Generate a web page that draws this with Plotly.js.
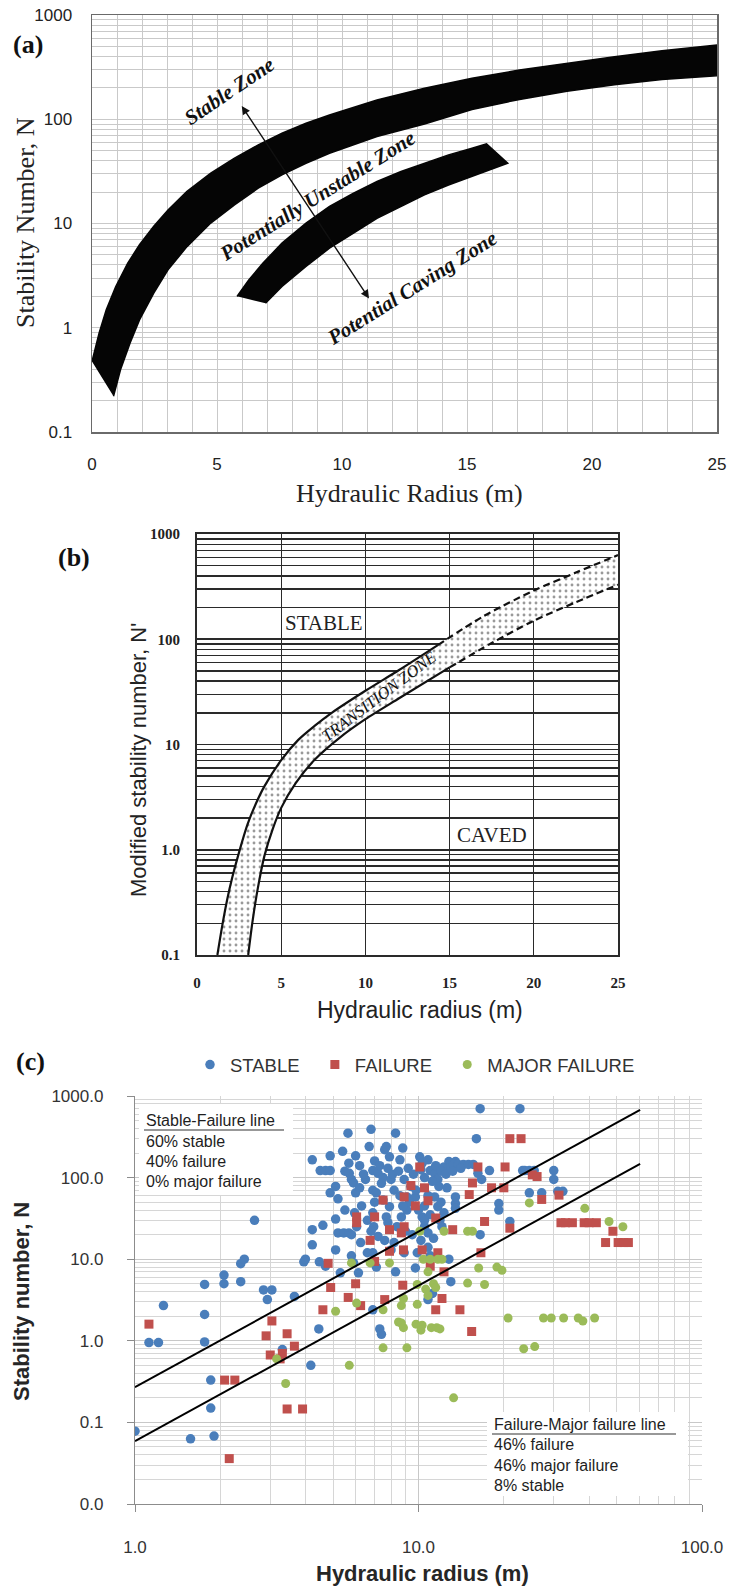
<!DOCTYPE html>
<html><head><meta charset="utf-8">
<script src="https://cdn.plot.ly/plotly-3.0.1.min.js"></script>
<style>html,body{margin:0;padding:0;background:#fff}#chart{width:741px;height:1588px}</style>
</head><body><div id="chart"></div>
<script>
// ================= Panel (a) data =================
const aUpperTopX = [0, 0.285, 0.57, 0.95, 1.43, 1.9, 2.47, 3.04, 3.8, 4.75, 5.7, 6.65, 7.6, 8.56, 9.5, 11.4, 13.3, 15.2, 17.1, 19.0, 20.9, 22.8, 25];
const aUpperTopN = [0.475, 0.89, 1.49, 2.49, 4.17, 6.25, 9.4, 13.5, 20.3, 30.4, 42.3, 56.8, 73.5, 91.6, 110, 153, 198, 247, 297, 345, 398, 455, 515];
const aUpperBotX = [0.86, 1.14, 1.52, 1.9, 2.47, 3.04, 3.8, 4.75, 5.7, 6.65, 7.6, 8.56, 9.5, 11.4, 13.3, 15.2, 17.1, 19.0, 20.9, 22.8, 25];
const aUpperBotN = [0.22, 0.395, 0.71, 1.19, 2.15, 3.6, 6.0, 10.1, 15.1, 21.8, 29.3, 37.8, 47.2, 68.2, 90, 124, 155, 186, 214, 240, 262];
const aLowerTopX = [5.8, 6.27, 6.84, 7.6, 8.56, 9.5, 10.46, 11.4, 12.36, 13.3, 14.26, 15.2, 15.78];
const aLowerTopN = [2.0, 2.88, 4.17, 6.5, 10.1, 14.6, 19.5, 25.3, 31.5, 37.9, 45.5, 52.7, 58];
const aLowerBotX = [6.94, 7.6, 8.56, 9.5, 10.46, 11.4, 12.36, 13.3, 14.26, 15.2, 16.63];
const aLowerBotN = [1.72, 2.49, 3.87, 5.8, 8.07, 11.2, 14.6, 18.8, 23.4, 28.2, 37.9];
const aArrowX = [5.99, 11.12];
const aArrowN = [134, 1.85];
const aZoneLabels = ['Stable Zone', 'Potentially Unstable Zone', 'Potential Caving Zone'];
const aZoneX = [5.5, 9.0, 12.8];
const aZoneN = [185, 18.5, 2.4];
const aZoneAngle = [-34, -32, -32];
const aTickVals = [0.1, 1, 10, 100, 1000];

// ================= Panel (b) data =================
const bUpperSolidX = [1.21, 1.5, 1.8, 2.1, 2.5, 3.0, 3.5, 4.0, 5.0, 6.0, 7.0, 8.0, 10.0, 12.0, 14.3];
const bUpperSolidN = [0.1, 0.19, 0.34, 0.55, 0.95, 1.74, 2.75, 4.0, 7.1, 11.0, 15.1, 20, 32.4, 51, 88];
const bUpperDashX = [14.3, 17, 20, 22.5, 25];
const bUpperDashN = [88, 165, 290, 430, 630];
const bLowerSolidX = [3.04, 3.3, 3.6, 4.0, 4.5, 5.0, 5.86, 7.0, 8.5, 10.0, 12.0, 15.0];
const bLowerSolidN = [0.1, 0.21, 0.42, 0.87, 1.58, 2.5, 4.3, 7.2, 11.7, 17.4, 27.5, 54];
const bLowerDashX = [15.0, 17.5, 20, 22.5, 25];
const bLowerDashN = [54, 92, 150, 225, 330];
const bZoneLabels = ['STABLE', 'CAVED', 'TRANSITION ZONE'];
const bZoneX = [7.55, 17.5, 10.8];
const bZoneN = [142, 1.38, 28.5];

// ================= Panel (c) data =================
const stableHR = [1.0,1.12,1.21,1.26,1.57,1.76,1.76,1.76,1.85,1.85,1.9,2.06,2.06,2.36,2.36,2.43,2.64,2.84,3.04,2.93,3.31,3.65,3.94,3.99,4.17,4.22,4.22,4.22,4.45,4.5,4.7,4.88,4.6,4.47,4.7,4.88,4.88,5.1,5.1,5.1,5.2,5.3,5.45,5.68,5.8,5.4,5.64,5.68,5.7,5.8,5.9,6.0,6.0,5.95,6.05,5.8,6.14,6.25,6.5,6.7,6.8,6.9,7.0,7.2,6.9,7.0,6.9,6.6,6.95,7.2,6.9,7.1,6.9,7.3,7.4,7.6,7.7,7.9,7.5,8.0,8.2,7.5,7.9,7.7,8.3,8.8,8.6,8.4,8.2,8.3,8.7,9.1,9.1,8.9,9.4,9.75,8.9,9.75,9.9,10.1,10.3,10.5,10.8,11.0,10.3,10.5,10.8,10.8,11.0,10.5,10.8,11.2,11.4,11.7,11.8,11.4,11.7,11.9,12.1,12.3,12.3,12.8,13.0,13.5,13.3,13.8,14.4,15.0,15.6,13.5,13.5,13.5,12.8,13.0,16.2,16.7,16.0,16.5,16.5,17.8,19.2,19.2,21,22.8,23.3,23.7,24.6,25.6,24.6,27.2,30,30,31,32.3,
  5.5,6.2,6.4,7.3,7.8,8.1,8.5,9.2,9.6,10.2,11.5,12.0,12.5,7.4,8.6,9.3,10.0,11.0,6.3,6.8,7.6,8.0,9.5,10.2,11.3,6.6,5.9,7.8,8.8,9.8,10.8,12.0,12.6,11.2,13.2,14.1,5.2,5.5,6.2,7.1,10.5,9.0];
const stableN = [0.078,0.95,0.95,2.7,0.063,4.9,2.1,0.97,0.33,0.15,0.068,6.4,5.0,5.3,8.8,10,30,4.2,4.2,3.2,0.78,3.5,9.3,10,0.5,165,23,15,1.4,122,122,122,26,9.3,8.2,185,65,78,31,13,21,6.8,21,21,20,210,350,150,113,95,86,65,185,37,25,11,6.8,16,95,240,390,122,160,113,70,50,37,30,25,19,12,8,2.4,1.4,1.2,220,240,180,100,95,70,53,44,33,350,230,165,25,16,7.0,33,40,58,95,78,58,12,7.8,12,180,150,100,165,122,33,25,21,14,11,45,3.2,3.8,113,95,78,58,44,30,25,37,135,157,135,157,145,145,145,145,145,58,48,42,10,5.3,113,95,300,700,20,122,48,40,29,700,122,122,122,122,65,65,122,95,68,68,
  120,140,110,140,130,110,120,130,110,125,140,120,110,85,60,50,40,35,45,22,17,13,20,17,18,12,9,28,45,70,60,50,75,90,120,130,55,40,75,65,30,22];
const failureHR = [1.12,2.07,2.25,2.15,2.9,3.04,3.0,3.25,3.31,3.44,3.65,3.44,3.9,4.6,4.8,4.9,5.65,6.0,6.05,6.05,6.25,6.75,7.0,7.0,7.5,7.6,7.9,7.9,8.7,8.9,8.9,8.85,8.8,9.4,9.75,10.1,10.3,10.5,10.8,11.0,11.5,11.7,11.5,12.1,12.3,13.2,14.0,15.1,15.5,15.4,16.2,16.6,17.1,18.1,20,20.2,21,21,23,25.2,26.2,27.2,31.3,31.8,33,34.9,38.4,40,42.4,45.7,48.5,50.6,53,55];
const failureN = [1.6,0.33,0.33,0.036,1.15,1.75,0.67,0.6,0.7,1.22,0.86,0.146,0.146,2.4,8.9,4.5,3.4,5.0,33,28,2.7,17,33,9.4,53,3.2,23,12.5,21,25,58,13,4.8,80,45,135,13,75,52,8.2,32,12,2.4,3.3,7.0,23,2.4,62,86,1.3,135,12,29,75,75,135,24,300,300,108,103,54,61,28,28,28,28,28,28,16,22,16,16,16];
const majorHR = [3.16,3.4,5.1,5.7,5.8,6.05,6.75,7.5,7.5,7.9,8.5,8.7,8.85,8.85,8.7,9.1,9.9,9.9,10.1,9.8,10.3,10.2,10.4,11.0,11.7,12.1,10.8,10.6,10.8,11.3,11.5,11.1,11.6,11.9,12.3,13.3,14.9,15.5,14.9,16.3,17.1,18.9,19.7,20.7,23.5,25.7,24.6,27.6,29.4,32.5,36.6,38,41.8,38.6,47,52.6];
const majorN = [0.6,0.3,2.3,0.5,9.0,2.9,9.0,2.4,0.82,9.0,1.7,1.65,1.45,3.3,2.7,0.82,2.8,4.9,22,1.6,1.55,1.35,10,10,10,10,7.0,4.3,3.6,5.0,4.5,1.45,1.45,1.4,22,0.2,22,22,5.1,7.8,4.9,8.0,7.3,1.9,0.8,0.85,49,1.9,1.9,1.9,1.9,1.75,1.9,42,29,25];
const stableFailureHR = [1, 60.5];
const stableFailureN = [0.27, 675];
const failureMajorHR = [1, 60.5];
const failureMajorN = [0.059, 147];
const boxTopLines = ['Stable-Failure line', '60% stable', '40% failure', '0% major failure'];
const boxBottomLines = ['Failure-Major failure line', '46% failure', '46% major failure', '8% stable'];

// ================= Layout helpers =================
const W = 741, H = 1588;
const dx = (a, b) => [a / W, b / W];
const dy = (top, bot) => [1 - bot / H, 1 - top / H];
const L = Math.log10;
const rev = a => a.slice().reverse();

const SERIF = 'Liberation Serif, Times New Roman, serif';
const SANS = 'Liberation Sans, Arial, sans-serif';

const traces = [];
// Panel (a) bands
traces.push({x: aUpperTopX.concat(rev(aUpperBotX)), y: aUpperTopN.concat(rev(aUpperBotN)),
  xaxis: 'x', yaxis: 'y', mode: 'lines', fill: 'toself', fillcolor: '#050505',
  line: {color: '#050505', width: 1.5}, showlegend: false, hoverinfo: 'skip'});
traces.push({x: aLowerTopX.concat(rev(aLowerBotX)), y: aLowerTopN.concat(rev(aLowerBotN)),
  xaxis: 'x', yaxis: 'y', mode: 'lines', fill: 'toself', fillcolor: '#050505',
  line: {color: '#050505', width: 1.5}, showlegend: false, hoverinfo: 'skip'});

// Panel (b) transition zone
const bUpX = bUpperSolidX.concat(bUpperDashX.slice(1));
const bUpN = bUpperSolidN.concat(bUpperDashN.slice(1));
const bLoX = bLowerSolidX.concat(bLowerDashX.slice(1));
const bLoN = bLowerSolidN.concat(bLowerDashN.slice(1));
traces.push({x: bUpX.concat(rev(bLoX)), y: bUpN.concat(rev(bLoN)), xaxis: 'x2', yaxis: 'y2',
  mode: 'lines', fill: 'toself', fillcolor: 'rgba(255,255,255,1)',
  fillpattern: {shape: '.', fgcolor: '#9a9a9a', bgcolor: '#ffffff', size: 6, solidity: 0.18},
  line: {width: 0}, showlegend: false, hoverinfo: 'skip'});
[[bUpperSolidX, bUpperSolidN, 'solid'], [bUpperDashX, bUpperDashN, '7px,4px'],
 [bLowerSolidX, bLowerSolidN, 'solid'], [bLowerDashX, bLowerDashN, '7px,4px']].forEach(([xs, ys, d]) => {
  traces.push({x: xs, y: ys, xaxis: 'x2', yaxis: 'y2', mode: 'lines',
    line: {color: '#111', width: 2.2, dash: d, shape: 'spline', smoothing: 0.8}, showlegend: false, hoverinfo: 'skip'});
});

// Panel (c)
traces.push({x: stableHR, y: stableN, name: 'STABLE\u00A0\u00A0', xaxis: 'x3', yaxis: 'y3', mode: 'markers',
  marker: {symbol: 'circle', size: 9.5, color: '#4A7EBB'}, hoverinfo: 'skip'});
traces.push({x: failureHR, y: failureN, name: 'FAILURE\u00A0\u00A0', xaxis: 'x3', yaxis: 'y3', mode: 'markers',
  marker: {symbol: 'square', size: 9, color: '#C0504D'}, hoverinfo: 'skip'});
traces.push({x: majorHR, y: majorN, name: 'MAJOR FAILURE', xaxis: 'x3', yaxis: 'y3', mode: 'markers',
  marker: {symbol: 'circle', size: 9, color: '#9BBB59'}, hoverinfo: 'skip'});
traces.push({x: stableFailureHR, y: stableFailureN, xaxis: 'x3', yaxis: 'y3', mode: 'lines',
  line: {color: '#000', width: 2}, showlegend: false, hoverinfo: 'skip'});
traces.push({x: failureMajorHR, y: failureMajorN, xaxis: 'x3', yaxis: 'y3', mode: 'lines',
  line: {color: '#000', width: 2}, showlegend: false, hoverinfo: 'skip'});

// ================= Axes =================
const aGrid = '#c9c9c9';
const layout = {
  width: W, height: H, margin: {l: 0, r: 0, t: 0, b: 0},
  paper_bgcolor: '#fff', plot_bgcolor: '#fff', hovermode: false,
  xaxis: {domain: dx(92, 717), anchor: 'y', range: [0, 25], dtick: 5, tick0: 0,
    showgrid: true, gridcolor: aGrid, gridwidth: 1, zeroline: false,
    minor: {dtick: 1, showgrid: true, gridcolor: aGrid, gridwidth: 1},
    showline: true, mirror: true, linecolor: '#6a6a6a', linewidth: 1.5, ticks: '',
    ticklabelstandoff: 16, tickfont: {family: SANS, size: 17, color: '#222'}},
  yaxis: {domain: dy(15, 432), anchor: 'x', type: 'log', range: [-1, 3], dtick: 1, tickformat: '~g',
    showgrid: true, gridcolor: aGrid, gridwidth: 1,
    minor: {dtick: 'D1', showgrid: true, gridcolor: aGrid, gridwidth: 1},
    showline: true, mirror: true, linecolor: '#6a6a6a', linewidth: 1.5, ticks: '',
    ticklabelstandoff: 15, tickfont: {family: SANS, size: 17, color: '#222'}},
  xaxis2: {domain: dx(197, 618), anchor: 'y2', range: [0, 25], dtick: 5, tick0: 0,
    showgrid: true, gridcolor: '#2a2a2a', gridwidth: 1.4, zeroline: false,
    showline: true, mirror: true, linecolor: '#2a2a2a', linewidth: 2, ticks: '',
    ticklabelstandoff: 13, tickfont: {family: SERIF, size: 15, color: '#222', weight: 'bold'}},
  yaxis2: {domain: dy(534, 955), anchor: 'x2', type: 'log', range: [-1, 3], dtick: 1, tickformat: '~g',
    labelalias: {'1': '1.0'},
    showgrid: true, gridcolor: '#2a2a2a', gridwidth: 1.6,
    minor: {dtick: 'D1', showgrid: true, gridcolor: '#2a2a2a', gridwidth: 1.4},
    showline: true, mirror: true, linecolor: '#2a2a2a', linewidth: 2, ticks: '',
    ticklabelstandoff: 12, tickfont: {family: SERIF, size: 15, color: '#222', weight: 'bold'}},
  xaxis3: {domain: dx(135, 702), anchor: 'y3', type: 'log', range: [0, 2], dtick: 1, tickformat: '.1f',
    showgrid: true, gridcolor: '#c8c8c8', gridwidth: 1,
    minor: {dtick: 'D1', showgrid: true, gridcolor: '#d6d6d6', gridwidth: 1},
    showline: true, linecolor: '#8c8c8c', linewidth: 1.2, ticks: 'outside', ticklen: 7, tickcolor: '#8c8c8c',
    ticklabelstandoff: 20, tickfont: {family: SANS, size: 17, color: '#333'}},
  yaxis3: {domain: dy(1096, 1504), anchor: 'x3', type: 'log', range: [-2, 3], dtick: 1, tickformat: '.1f',
    showgrid: true, gridcolor: '#c8c8c8', gridwidth: 1,
    minor: {dtick: 'D1', showgrid: true, gridcolor: '#d6d6d6', gridwidth: 1},
    showline: true, linecolor: '#8c8c8c', linewidth: 1.2, ticks: 'outside', ticklen: 7, tickcolor: '#8c8c8c',
    ticklabelstandoff: 20, tickfont: {family: SANS, size: 17, color: '#333'}},
  showlegend: true,
  legend: {orientation: 'h', x: 190 / W, y: 1 - 1065 / H, xanchor: 'left', yanchor: 'middle',
    font: {family: SANS, size: 18.5, color: '#333'}, bgcolor: 'rgba(0,0,0,0)', tracegroupgap: 0},
  shapes: [], annotations: []
};

// darker N = 1 line in panel (a)
layout.shapes.push({type: 'line', xref: 'x domain', x0: 0, x1: 1, yref: 'y', y0: L(aTickVals[1]), y1: L(aTickVals[1]),
  line: {color: '#555', width: 1.5}, layer: 'below'});

// white text boxes in panel (c)
const P = (x) => x / W, Q = (y) => 1 - y / H;
layout.shapes.push({type: 'rect', xref: 'paper', yref: 'paper', x0: P(139), x1: P(293), y0: Q(1195), y1: Q(1104),
  fillcolor: '#fff', line: {width: 0}, layer: 'above'});
layout.shapes.push({type: 'rect', xref: 'paper', yref: 'paper', x0: P(487), x1: P(688), y0: Q(1496), y1: Q(1412),
  fillcolor: '#fff', line: {width: 0}, layer: 'above'});
layout.shapes.push({type: 'line', xref: 'paper', yref: 'paper', x0: P(144), x1: P(284), y0: Q(1130), y1: Q(1130),
  line: {color: '#333', width: 1.2}, layer: 'above'});
layout.shapes.push({type: 'line', xref: 'paper', yref: 'paper', x0: P(492), x1: P(676), y0: Q(1434), y1: Q(1434),
  line: {color: '#333', width: 1.2}, layer: 'above'});

const A = layout.annotations;
function ann(text, x, y, font, extra) {
  A.push(Object.assign({text, x: x / W, y: 1 - y / H, xref: 'paper', yref: 'paper', showarrow: false,
    xanchor: 'center', yanchor: 'middle', font}, extra || {}));
}
// titles & panel labels
ann('<b>(a)</b>', 28, 45, {family: SERIF, size: 26, color: '#111'});
ann('Stability Number, N', 25, 223, {family: SERIF, size: 26, color: '#222'}, {textangle: -90});
ann('Hydraulic Radius (m)', 409, 493, {family: SERIF, size: 26, color: '#222'});
ann('<b>(b)</b>', 74, 557, {family: SERIF, size: 26, color: '#111'});
ann("Modified stability number, N'", 138, 760, {family: SANS, size: 22, color: '#222'}, {textangle: -90});
ann('Hydraulic radius (m)', 420, 1010, {family: SANS, size: 23, color: '#222'});
ann('<b>(c)</b>', 30, 1061, {family: SERIF, size: 26, color: '#111'});
ann('<b>Stability number, N</b>', 21, 1302, {family: SANS, size: 22, color: '#262626'}, {textangle: -90});
ann('<b>Hydraulic radius (m)</b>', 422, 1573, {family: SANS, size: 22, color: '#262626'});

// panel (a) zone labels and arrow
aZoneLabels.forEach((t, i) => A.push({text: '<b><i>' + t + '</i></b>', x: aZoneX[i], y: L(aZoneN[i]), xref: 'x', yref: 'y',
  showarrow: false, textangle: aZoneAngle[i], font: {family: SERIF, size: 21, color: '#111'}}));
A.push({text: '', x: aArrowX[0], y: L(aArrowN[0]), ax: aArrowX[1], ay: L(aArrowN[1]), xref: 'x', yref: 'y',
  axref: 'x', ayref: 'y', showarrow: true, arrowside: 'end+start', arrowhead: 2, startarrowhead: 2,
  arrowsize: 1.2, startarrowsize: 1.2, arrowwidth: 1.4, arrowcolor: '#111'});

// panel (b) zone labels
A.push({text: bZoneLabels[0], x: bZoneX[0], y: L(bZoneN[0]), xref: 'x2', yref: 'y2', showarrow: false,
  font: {family: SERIF, size: 21, color: '#222'}});
A.push({text: bZoneLabels[1], x: bZoneX[1], y: L(bZoneN[1]), xref: 'x2', yref: 'y2', showarrow: false,
  font: {family: SERIF, size: 21, color: '#222'}});
A.push({text: '<i>' + bZoneLabels[2] + '</i>', x: bZoneX[2], y: L(bZoneN[2]), xref: 'x2', yref: 'y2', showarrow: false,
  textangle: -37, font: {family: SERIF, size: 16.5, color: '#111'}});

// panel (c) text boxes
const tyTop = [1120, 1141, 1161, 1181], tyBot = [1424, 1444, 1465, 1485];
boxTopLines.forEach((t, i) => ann(t, 144, tyTop[i], {family: SANS, size: 16, color: '#1e1e1e'}, {xanchor: 'left'}));
boxBottomLines.forEach((t, i) => ann(t, 492, tyBot[i], {family: SANS, size: 16, color: '#1e1e1e'}, {xanchor: 'left'}));

Plotly.newPlot('chart', traces, layout, {staticPlot: true, displayModeBar: false});
</script></body></html>
